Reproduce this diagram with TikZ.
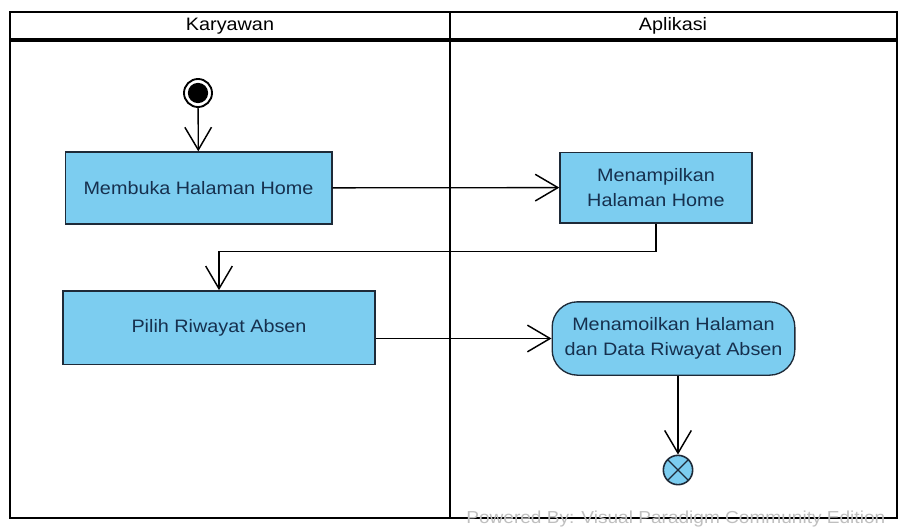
\documentclass[tikz,border=0pt]{standalone}
\usepackage{fontspec}
\setmainfont{Liberation Sans}[FakeStretch=1.1]
\usepackage{tikz}
\usetikzlibrary{arrows.meta}

\definecolor{vpblue}{RGB}{124,205,240}
\definecolor{vptext}{RGB}{22,48,78}
\definecolor{vpline}{RGB}{30,42,56}

\tikzset{
  action/.style={draw=vpline, line width=1pt, fill=vpblue, text=vptext, align=center, inner sep=0pt},
  flow/.style={draw=black, line width=1pt, -{Straight Barb[length=17pt,width=20pt,line width=1.1pt]}},
  lane/.style={draw=black, line width=2.2pt}
}

\begin{document}
\begin{tikzpicture}[x=0.75pt,y=0.75pt,yscale=-1,xscale=1,
  font=\fontsize{13.5}{19}\selectfont]
\path[use as bounding box] (0,0) rectangle (908,529);

%Swimlanes
\draw[lane] (10,12) rectangle (897,518);
\draw[lane, line width=2.8pt] (10,40) -- (897,40);
\draw[lane] (450,12) -- (450,518);

% Text Node
\node (karyawan) at (230,26) {Karyawan};
% Text Node
\node (aplikasi) at (673,26) {Aplikasi};

% Initial node
\node[circle, draw=black, line width=1.4pt, minimum size=21pt, inner sep=0pt,
  path picture={\fill[black] (path picture bounding box.center) circle (7.6pt);}] (start) at (198,93) {};

% Actions
\node[action, minimum width=200pt, minimum height=54pt] (home) at (198.5,188) {Membuka Halaman Home};
\node[action, minimum width=144pt, minimum height=53pt] (tampil) at (656,187.5) {Menampilkan\\Halaman Home};
\node[action, minimum width=234pt, minimum height=55pt] (pilih) at (219,327.5) {Pilih Riwayat Absen};
\node[action, rounded corners=19pt, minimum width=182pt, minimum height=55pt] (riwayat) at (673.5,338.5) {Menamoilkan Halaman\\dan Data Riwayat Absen};

% Final node
\node[circle, draw=vpline, line width=1.2pt, fill=vpblue, minimum size=22pt, inner sep=0pt,
  path picture={\draw[vpline, line width=1pt] (path picture bounding box.north west) -- (path picture bounding box.south east)
    (path picture bounding box.north east) -- (path picture bounding box.south west);}] (final) at (678,470) {};

%Straight Lines
\draw[flow] (start) -- (home);
\draw[flow] (home) -- (tampil);
\draw[flow] (tampil.south) -- ++(0,28) -| (pilih.north);
\draw[flow] (pilih.east |- riwayat.west) -- (riwayat.west);
\draw[flow] (final |- riwayat.south) -- (final);

% Text Node
\node[text=gray!50, anchor=east, font=\fontsize{13}{15}\selectfont] (powered) at (890,519) {Powered By: Visual Paradigm Community Edition};

\end{tikzpicture}
\end{document}
